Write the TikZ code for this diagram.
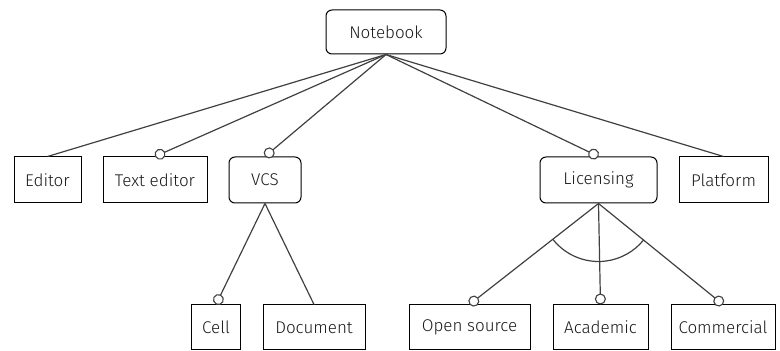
\documentclass[tikz,border=0pt]{standalone}
\usepackage{fontspec}
\setmainfont{Fira Sans}[UprightFont=* Light]
\usetikzlibrary{arrows.meta,calc}
\tikzset{
  feat/.style={draw=black, line width=1pt, minimum height=46pt, inner sep=0pt, font=\fontsize{17}{20}\selectfont, text=black!90},
  featr/.style={feat, rounded corners=6pt},
  conn/.style={draw=black!75, line width=1.2pt},
  opt/.style={conn, -{Circle[open, length=11pt, width=11pt, fill=white, line width=1.1pt]}},
}
\begin{document}
\begin{tikzpicture}[x=1pt,y=1pt]
\useasboundingbox (0,0) rectangle (780,351);
\node[featr, minimum width=120pt, minimum height=44pt] (nb) at (386,319) {Notebook};
\node[feat, minimum width=67pt] (ed) at (47.5,171) {Editor};
\node[feat, minimum width=104pt] (te) at (155,171) {Text editor};
\node[featr, minimum width=72pt] (vcs) at (265,171) {VCS};
\node[featr, minimum width=117pt] (lic) at (598.5,171) {Licensing};
\node[feat, minimum width=89pt] (pf) at (723.5,171) {Platform};
\node[feat, minimum width=49pt, minimum height=45pt] (cell) at (216,23.5) {Cell};
\node[feat, minimum width=102pt, minimum height=45pt] (doc) at (314,23.5) {Document};
\node[feat, minimum width=121pt, minimum height=45pt] (os) at (469.5,23.5) {Open source};
\node[feat, minimum width=95pt, minimum height=45pt] (ac) at (600.5,23.5) {Academic};
\node[feat, minimum width=104pt, minimum height=45pt] (com) at (723,23.5) {Commercial};
\draw[conn] (nb.south) -- (ed.north);
\draw[opt] (nb.south) -- (te.north);
\draw[opt] (nb.south) -- (vcs.north);
\draw[opt] (nb.south) -- (lic.north);
\draw[conn] (nb.south) -- (pf.north);
\draw[opt] (vcs.south) -- (cell.north);
\draw[conn] (vcs.south) -- (doc.north);
\draw[opt] (lic.south) -- (os.north);
\draw[opt] (lic.south) -- (ac.north);
\draw[opt] (lic.south) -- (com.north);
\draw[conn] let \p1=($(os.north)-(lic.south)$), \p2=($(com.north)-(lic.south)$),
  \n1={atan2(\y1,\x1)}, \n2={atan2(\y2,\x2)} in
  ($(lic.south)+(\n1:58pt)$) arc[start angle=\n1, end angle=\n2, radius=58pt];
\end{tikzpicture}
\end{document}
